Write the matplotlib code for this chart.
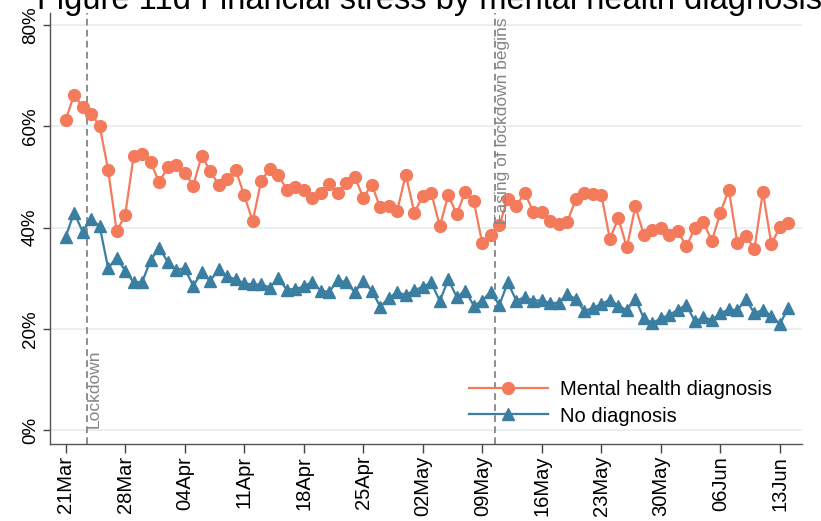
import numpy as np
import pandas as pd
import matplotlib
matplotlib.use('Agg')
import matplotlib.pyplot as plt
import matplotlib.dates as mdates

plt.rcParams['font.family'] = ['Liberation Sans', 'DejaVu Sans']

# daily survey waves, 21 Mar - 14 Jun 2020
dates = pd.date_range('2020-03-21', '2020-06-14', freq='D')

# share reporting financial stress (%)
mental_health = [
    61.2, 66.3, 63.8, 62.5, 60.1, 51.4, 39.3, 42.5, 54.2, 54.5,
    52.9, 49.0, 51.9, 52.3, 50.9, 48.3, 54.2, 51.2, 48.5, 49.6,
    51.4, 46.4, 41.3, 49.3, 51.6, 50.5, 47.5, 48.0, 47.5, 45.8,
    46.9, 48.6, 46.9, 48.8, 50.1, 45.9, 48.5, 44.0, 44.3, 43.4,
    50.5, 43.0, 46.2, 46.9, 40.3, 46.4, 42.7, 47.1, 45.2, 36.9,
    38.6, 40.5, 45.7, 44.3, 46.9, 43.1, 43.1, 41.4, 40.7, 41.2,
    45.6, 46.9, 46.6, 46.5, 37.8, 41.9, 36.1, 44.2, 38.6, 39.6,
    39.9, 38.6, 39.3, 36.3, 39.9, 41.1, 37.4, 43.0, 47.5, 36.9,
    38.4, 35.8, 47.1, 36.7, 40.2, 41.0,
]
no_diagnosis = [
    38.2, 43.0, 39.2, 41.7, 40.3, 32.0, 34.1, 31.5, 29.2, 29.3,
    33.6, 36.0, 33.3, 31.7, 32.0, 28.5, 31.2, 29.5, 31.8, 30.4,
    29.8, 29.0, 28.8, 28.8, 28.2, 30.0, 27.8, 27.9, 28.4, 29.3,
    27.6, 27.3, 29.7, 29.2, 27.3, 29.4, 27.6, 24.4, 26.1, 27.3,
    26.7, 27.7, 28.3, 29.2, 25.5, 29.8, 26.3, 27.6, 24.6, 25.6,
    27.4, 24.7, 29.2, 25.6, 26.3, 25.6, 25.7, 25.1, 25.2, 26.9,
    25.9, 23.5, 24.2, 24.9, 25.8, 24.6, 23.7, 26.0, 22.1, 21.2,
    22.1, 22.8, 23.8, 24.8, 21.5, 22.3, 21.8, 23.1, 23.9, 23.7,
    25.9, 23.1, 23.8, 22.6, 21.0, 24.2,
]

week_ticks = pd.date_range('2020-03-21', '2020-06-13', freq='7D')
y_ticks = [0, 20, 40, 60, 80]

lockdown = pd.Timestamp('2020-03-23 12:00')
easing = pd.Timestamp('2020-05-10 12:00')

ORANGE = '#f47a5c'
BLUE = '#3a7ea1'
GREY = '#858585'

fig = plt.figure(figsize=(8.21, 5.21), dpi=100)
ax = fig.add_axes([50 / 821, 1 - 444 / 521, 752 / 821, 431 / 521])

ax.plot(dates, mental_health, color=ORANGE, lw=1.6, marker='o', ms=8.5,
        label='Mental health diagnosis', zorder=3)
ax.plot(dates, no_diagnosis, color=BLUE, lw=1.6, marker='^', ms=8.5,
        label='No diagnosis', zorder=3)

# policy events
for d in (lockdown, easing):
    ax.axvline(d, color=GREY, lw=1.3, ls=(0, (3.7, 2.4)), zorder=2)
ax.text(mdates.date2num(lockdown), 0.4, 'Lockdown', rotation=90,
        ha='left', va='bottom', color=GREY, fontsize=12.5)
ax.text(mdates.date2num(easing), 81.6, 'Easing of lockdown begins',
        rotation=90, ha='left', va='top', color=GREY, fontsize=12.5)

start = dates[0]
ax.set_xlim(start - pd.Timedelta(days=1.84), start + pd.Timedelta(days=86.6))
ax.set_ylim(-2.7, 82.4)

ax.set_xticks(week_ticks)
ax.xaxis.set_major_formatter(mdates.DateFormatter('%d%b'))
ax.set_yticks(y_ticks)
ax.set_yticklabels([f'{v}%' for v in y_ticks])

ax.tick_params(axis='x', length=6.5, width=1, color='#444444', pad=2,
               labelsize=14.5, labelrotation=90)
ax.tick_params(axis='y', length=5, width=1, color='#444444', pad=3,
               labelsize=13.5, labelrotation=90)
for lab in ax.get_yticklabels():
    lab.set_va('center')

ax.yaxis.grid(True, color='#e8eff1', lw=1.3)
ax.set_axisbelow(True)
for side in ('top', 'right'):
    ax.spines[side].set_visible(False)
for side in ('left', 'bottom'):
    ax.spines[side].set_color('#555555')
    ax.spines[side].set_linewidth(1)

ax.legend(loc='center left', bbox_to_anchor=(469 / 821, 1 - 403 / 521),
          bbox_transform=fig.transFigure, frameon=False, fontsize=14.5,
          handlelength=3.9, handletextpad=0.6, labelspacing=0.35,
          borderpad=0, borderaxespad=0)

fig.text(37 / 821, 1 - 9 / 521,
         'Figure 11d Financial stress by mental health diagnosis',
         fontsize=23.5, ha='left', va='baseline')

fig.savefig('out.png', dpi=100)
